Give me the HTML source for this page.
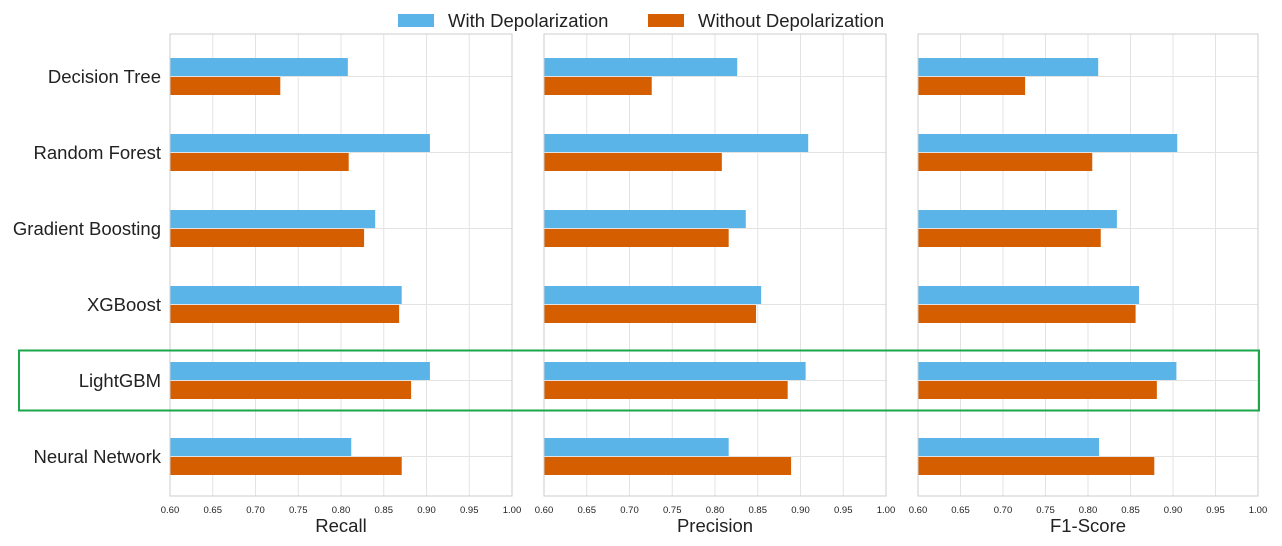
<!DOCTYPE html>
<html><head><meta charset="utf-8">
<style>
html,body{margin:0;padding:0;background:#fff;}
svg{display:block;font-family:"Liberation Sans",Arial,sans-serif;}
</style></head>
<body>
<svg id="chart" width="1282" height="546" viewBox="0 0 1282 546"></svg>
<script>
const categories = ["Decision Tree","Random Forest","Gradient Boosting","XGBoost","LightGBM","Neural Network"];
const metrics = ["Recall","Precision","F1-Score"];
const recallWith = [0.808,0.904,0.840,0.871,0.904,0.812];
const recallWithout = [0.729,0.809,0.827,0.868,0.882,0.871];
const precisionWith = [0.826,0.909,0.836,0.854,0.906,0.816];
const precisionWithout = [0.726,0.808,0.816,0.848,0.885,0.889];
const f1With = [0.812,0.905,0.834,0.860,0.904,0.813];
const f1Without = [0.726,0.805,0.815,0.856,0.881,0.878];
const xTicks = [0.60,0.65,0.70,0.75,0.80,0.85,0.90,0.95,1.00];
const seriesNames = ["With Depolarization","Without Depolarization"];

const NS="http://www.w3.org/2000/svg";
const svg=document.getElementById('chart');
function mk(tag,attrs,parent){const e=document.createElementNS(NS,tag);for(const k in attrs)e.setAttribute(k,attrs[k]);(parent||svg).appendChild(e);return e;}
const BLUE="#5ab4e8", ORANGE="#d55e00";
const panels=[{x0:170,x1:512},{x0:544,x1:886},{x0:918,x1:1258}];
const plotTop=34,plotBottom=496,xmin=0.6,xmax=1.0;
const data=[[recallWith,recallWithout],[precisionWith,precisionWithout],[f1With,f1Without]];
const rowH=76;
function yC(i){return 76.5+rowH*i;}

panels.forEach((p,pi)=>{
  const sx=v=>p.x0+(v-xmin)/(xmax-xmin)*(p.x1-p.x0);
  const g=mk('g',{});
  
  
  xTicks.forEach(t=>{
    const l=mk('line',{x1:sx(t),x2:sx(t),y1:plotTop,y2:plotBottom,stroke:'#e3e3e3','stroke-width':1},g);
    
    
    const tx=mk('text',{x:sx(t),y:513,'font-size':9.5,'text-anchor':'middle',fill:'#222'},g);
    tx.textContent=t.toFixed(2);
    
    
  });
  categories.forEach((c,i)=>{
    const l=mk('line',{x1:p.x0,x2:p.x1,y1:yC(i),y2:yC(i),stroke:'#e3e3e3','stroke-width':1},g);
    
    
  });
  categories.forEach((c,i)=>{
    const yc=yC(i);
    const b1=mk('rect',{x:p.x0,y:yc-18.5,width:sx(data[pi][0][i])-p.x0,height:18,fill:BLUE},g);
    
    
    const b2=mk('rect',{x:p.x0,y:yc+0.5,width:sx(data[pi][1][i])-p.x0,height:18,fill:ORANGE},g);
    
    
  });
  const fr=mk('rect',{x:p.x0,y:plotTop,width:p.x1-p.x0,height:plotBottom-plotTop,fill:'none',stroke:'#cccccc','stroke-width':1},g);
  
  
  const at=mk('text',{x:(p.x0+p.x1)/2,y:532,'font-size':18.5,'text-anchor':'middle',fill:'#222'},g);
  at.textContent=metrics[pi];
  
  
});
categories.forEach((c,i)=>{
  const t=mk('text',{x:161,y:yC(i)+6.5,'font-size':18.5,'text-anchor':'end',fill:'#222'});
  t.textContent=c;
  
  
});
const lg=mk('g',{});


[[398,448,BLUE],[648,698,ORANGE]].forEach((d,k)=>{
  const r=mk('rect',{x:d[0],y:14,width:36,height:13,fill:d[2]},lg);
  
  
  const t=mk('text',{x:d[1],y:27,'font-size':18.5,fill:'#222'},lg);
  t.textContent=seriesNames[k];
  
  
});
const hb=mk('rect',{x:19,y:350.5,width:1240,height:60,fill:'none',stroke:'#1aa64a','stroke-width':2});


</script>
</body></html>
